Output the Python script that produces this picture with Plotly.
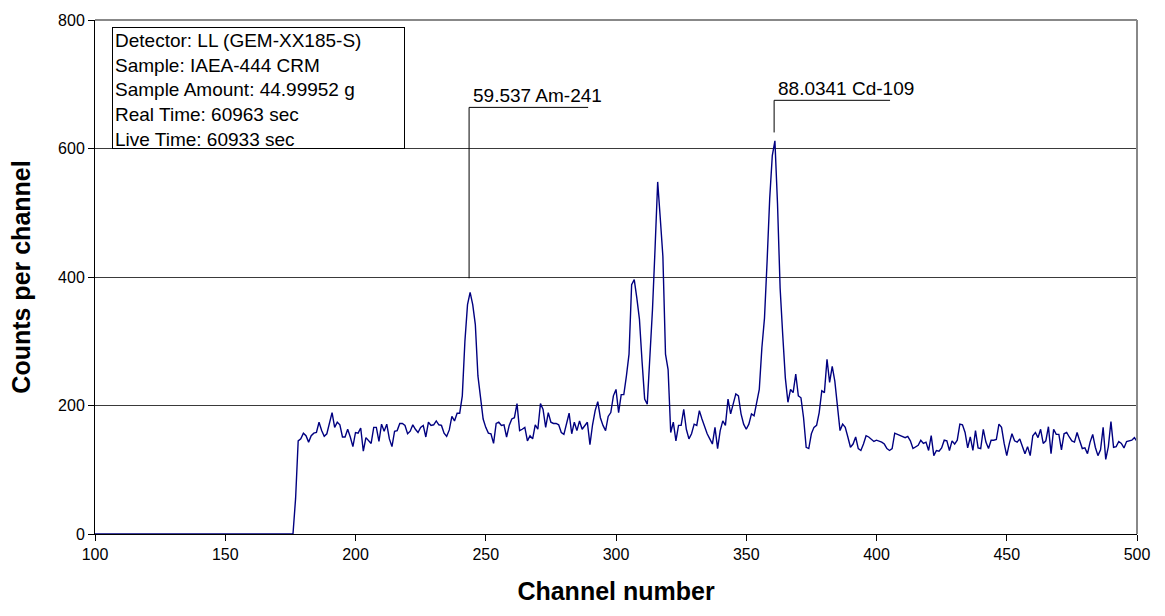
import plotly.graph_objects as go

# Gamma spectrum, low-energy region (channels 100-500)
first_channel = 100

counts_100_176 = [
    0, 0, 0, 0, 0, 0, 0, 0, 0, 0, 0, 0, 0, 0, 0, 0, 0, 0, 0, 0,
    0, 0, 0, 0, 0, 0, 0, 0, 0, 0, 0, 0, 0, 0, 0, 0, 0, 0, 0, 0,
    0, 0, 0, 0, 0, 0, 0, 0, 0, 0, 0, 0, 0, 0, 0, 0, 0, 0, 0, 0,
    0, 0, 0, 0, 0, 0, 0, 0, 0, 0, 0, 0, 0, 0, 0, 0, 0,
]
counts_177_216 = [
    55, 145, 148, 157, 153, 143, 153, 157, 158, 174, 161, 152, 156, 171,
    189, 166, 174, 170, 151, 151, 163, 151, 136, 158, 157, 165, 129, 150,
    146, 141, 166, 166, 144, 171, 160, 171, 148, 136, 160, 161,
]
counts_217_305 = [
    172, 172, 169, 156, 160, 170, 163, 158, 166, 169,
    151, 174, 169, 170, 176, 170, 169, 157, 152, 162,
    183, 176, 188, 188, 215, 300, 357, 376, 357, 326,
    246, 212, 179, 166, 157, 156, 141, 172, 174, 169,
    170, 151, 169, 179, 181, 203, 161, 163, 166, 145,
    153, 148, 170, 163, 203, 194, 166, 189, 174, 172,
    172, 170, 158, 155, 170, 188, 156, 174, 161, 176,
    163, 169, 174, 139, 170, 192, 206, 181, 169, 161,
    183, 189, 215, 225, 189, 217, 217, 246, 280,
]
counts_306_397 = [
    388, 396, 367, 334, 269, 210, 202, 269, 349, 445,
    548, 491, 432, 280, 256, 158, 174, 145, 169, 169,
    194, 163, 148, 156, 171, 169, 192, 179, 166, 156,
    148, 140, 166, 133, 161, 176, 169, 210, 187, 205,
    218, 215, 187, 171, 163, 171, 187, 184, 202, 225,
    290, 336, 424, 522, 589, 612, 514, 383, 310, 243,
    205, 225, 220, 249, 215, 212, 181, 135, 133, 156,
    166, 169, 189, 223, 220, 272, 236, 261, 238, 200,
    161, 171, 166, 151, 135, 140, 151, 133, 130, 140,
    153, 151,
]
counts_398_500 = [
    148, 144, 146, 145, 143, 140, 133, 130, 133, 157,
    155, 153, 151, 150, 152, 145, 133, 135, 138, 146,
    141, 143, 130, 153, 122, 130, 129, 134, 146, 145,
    130, 145, 140, 146, 171, 170, 158, 134, 151, 130,
    161, 134, 133, 163, 143, 133, 146, 146, 147, 171,
    166, 141, 122, 141, 156, 145, 143, 148, 135, 125,
    136, 122, 153, 158, 150, 163, 141, 145, 167, 125,
    163, 155, 155, 131, 156, 158, 151, 145, 143, 158,
    145, 133, 134, 125, 143, 155, 135, 122, 131, 166,
    116, 136, 175, 135, 136, 144, 141, 134, 144, 145,
    146, 150, 144,
]

counts = (counts_100_176 + counts_177_216 + counts_217_305
          + counts_306_397 + counts_398_500)
channels = list(range(first_channel, first_channel + len(counts)))

# Identified peaks: channel, label
peak_channels = [243.6, 360.7]
peak_labels = ["59.537 Am-241", "88.0341 Cd-109"]

# Acquisition details
info_lines = [
    "Detector: LL (GEM-XX185-S)",
    "Sample: IAEA-444 CRM",
    "Sample Amount: 44.99952 g",
    "Real Time: 60963 sec",
    "Live Time: 60933 sec",
]

x_ticks = [100, 150, 200, 250, 300, 350, 400, 450, 500]
y_ticks = [0, 200, 400, 600, 800]

# Leader-line geometry for the peak labels (data units)
leader_bottom = [398, 625]
leader_top = [664, 675]
leader_end = [289.3, 405.2]

FONT = "Arial, Liberation Sans, sans-serif"

fig = go.Figure()
fig.add_trace(go.Scatter(
    x=channels, y=counts, mode="lines",
    line=dict(color="#000080", width=1.4),
    hoverinfo="x+y", showlegend=False,
))

shapes = []
annotations = []
for ch, lab, yb, yt, xe in zip(peak_channels, peak_labels,
                               leader_bottom, leader_top, leader_end):
    shapes.append(dict(type="line", xref="x", yref="y", x0=ch, x1=ch,
                       y0=yb, y1=yt, line=dict(color="#000000", width=1)))
    shapes.append(dict(type="line", xref="x", yref="y", x0=ch, x1=xe,
                       y0=yt, y1=yt, line=dict(color="#000000", width=1)))
    annotations.append(dict(
        x=ch, y=yt, xref="x", yref="y", text=lab, showarrow=False,
        xanchor="left", yanchor="bottom", xshift=2, yshift=-1,
        font=dict(family=FONT, size=19, color="#000000"),
    ))

# Plot frame: grey top and right edges
shapes.append(dict(type="line", xref="paper", yref="paper", x0=0, x1=1,
                   y0=1, y1=1, line=dict(color="#888888", width=2)))
shapes.append(dict(type="line", xref="paper", yref="paper", x0=1, x1=1,
                   y0=0, y1=1, line=dict(color="#888888", width=2)))

annotations.append(dict(
    xref="paper", yref="paper", x=0.0163, y=0.9865,
    xanchor="left", yanchor="top", align="left", valign="top",
    text="<br>".join(info_lines), showarrow=False,
    bordercolor="#000000", borderwidth=1, borderpad=2, bgcolor="#ffffff",
    width=287, height=116,
    font=dict(family=FONT, size=19, color="#000000"),
))

fig.update_layout(
    width=1165, height=616,
    margin=dict(l=95, r=28, t=17, b=82),
    paper_bgcolor="#ffffff", plot_bgcolor="#ffffff",
    font=dict(family=FONT, color="#000000"),
    shapes=shapes, annotations=annotations,
    xaxis=dict(
        range=[100, 500], tickmode="array", tickvals=x_ticks,
        ticktext=[str(v) for v in x_ticks],
        ticks="outside", ticklen=6, tickcolor="#000000",
        showline=True, linecolor="#000000", linewidth=1,
        showgrid=False, zeroline=False,
        tickfont=dict(family=FONT, size=16, color="#000000"),
        title=dict(text="<b>Channel number</b>", standoff=20,
                   font=dict(family=FONT, size=25, color="#000000")),
    ),
    yaxis=dict(
        range=[0, 800], tickmode="array", tickvals=y_ticks,
        ticktext=[str(v) for v in y_ticks],
        ticks="outside", ticklen=6, tickcolor="#000000",
        showline=True, linecolor="#000000", linewidth=1,
        showgrid=True, gridcolor="#3a3a3a", gridwidth=1, zeroline=False,
        tickfont=dict(family=FONT, size=16, color="#000000"),
        title=dict(text="<b>Counts per channel</b>", standoff=20,
                   font=dict(family=FONT, size=25, color="#000000")),
    ),
)

fig.write_html("out.html")
